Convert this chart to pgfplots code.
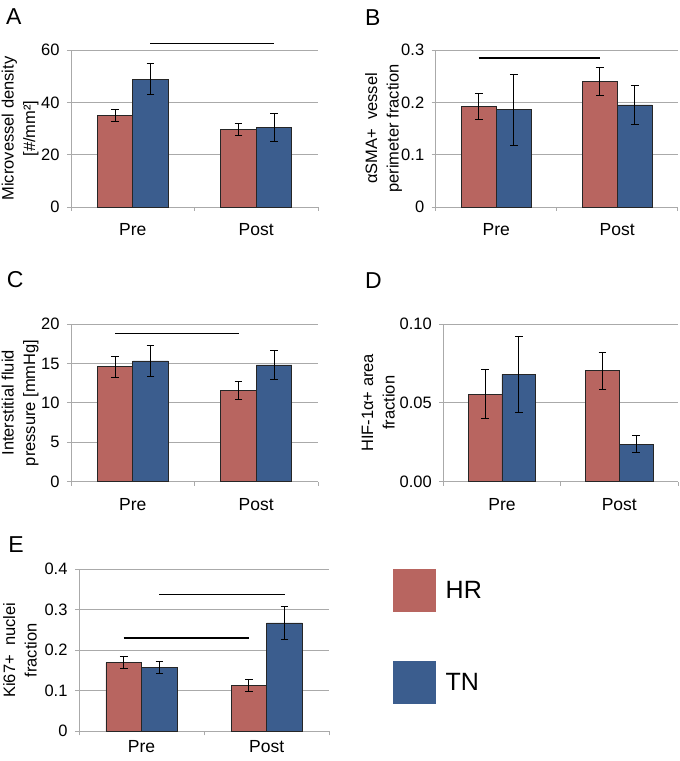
\documentclass[border=0pt]{standalone}
\usepackage{fontspec}
\setmainfont{Liberation Sans}
\usepackage{pgfplots}
\pgfplotsset{compat=1.18}
\definecolor{hr}{RGB}{184,101,96}
\definecolor{tn}{RGB}{59,93,142}
\definecolor{gridc}{RGB}{170,170,170}
\pgfplotsset{
  panel/.style={
    scale only axis,
    ybar=0pt,
    xmin=-0.5, xmax=1.5,
    ymin=0,
    xtick={0,1}, xticklabels={Pre,Post},
    minor xtick={-0.5,0.5,1.5},
    axis x line*=bottom, axis y line*=left,
    axis line style={gridc, line width=0.8bp},
    tick align=outside,
    major tick length=4bp, minor tick length=4bp,
    tick style={gridc, line width=0.8bp},
    major x tick style={draw=none},
    ymajorgrids, grid style={gridc, line width=0.8bp},
    /pgf/number format/assume math mode=true,
    yticklabel style={font=\fontsize{16.5bp}{19bp}\selectfont, xshift=-4bp},
    xticklabel style={font=\fontsize{17.5bp}{20bp}\selectfont, yshift=-9bp},
    ylabel style={font=\fontsize{16.5bp}{21.5bp}\selectfont, align=center,
      at={(axis description cs:0,0.5)}, anchor=center},
    clip=false,
  },
  hrbar/.style={fill=hr, draw=black!85, line width=0.7bp,
    error bars/.cd, y dir=both, y explicit,
    error bar style={black, line width=0.9bp},
    error mark options={rotate=90, black, mark size=3.8bp, line width=0.9bp}},
  tnbar/.style={fill=tn, draw=black!85, line width=0.7bp,
    error bars/.cd, y dir=both, y explicit,
    error bar style={black, line width=0.9bp},
    error mark options={rotate=90, black, mark size=3.8bp, line width=0.9bp}},
  sig/.style={sharp plot, black, line width=1.5bp, forget plot, mark=none},
}
\begin{document}
\begin{tikzpicture}
\path[use as bounding box] (0,0) rectangle (680bp,761bp);

% Panel labels
\node[anchor=base west, inner sep=0pt, font=\fontsize{23bp}{26bp}\selectfont] at (6bp,736bp) {A};
\node[anchor=base west, inner sep=0pt, font=\fontsize{23bp}{26bp}\selectfont] at (365bp,735bp) {B};
\node[anchor=base west, inner sep=0pt, font=\fontsize{23bp}{26bp}\selectfont] at (6.7bp,473bp) {C};
\node[anchor=base west, inner sep=0pt, font=\fontsize{23bp}{26bp}\selectfont] at (365bp,472.7bp) {D};
\node[anchor=base west, inner sep=0pt, font=\fontsize{23bp}{26bp}\selectfont] at (8.3bp,208bp) {E};

% Panel A
\begin{axis}[panel, at={(71bp,554bp)}, anchor=south west,
  width=247bp, height=157bp, bar width=35.5bp,
  ymax=60, ytick={0,20,40,60},
  ylabel={Microvessel density\\{}[\#/mm²]}, ylabel style={yshift=51bp}]
\addplot[hrbar] coordinates {(0,35.0) +- (0,2.4) (1,29.5) +- (0,2.3)};
\addplot[tnbar] coordinates {(0,48.9) +- (0,6.0) (1,30.4) +- (0,5.3)};
\addplot[sig] coordinates {(0.1437,62.5) (1.1437,62.5)};
\end{axis}

% Panel B
\begin{axis}[panel, at={(435.7bp,554bp)}, anchor=south west,
  width=242bp, height=157bp, bar width=35bp,
  ymax=0.3, ytick={0,0.1,0.2,0.3}, yticklabels={0,0.1,0.2,0.3},
  ylabel={αSMA+\ \ vessel\\perimeter fraction}, ylabel style={yshift=52bp}]
\addplot[hrbar] coordinates {(0,0.192) +- (0,0.025) (1,0.240) +- (0,0.027)};
\addplot[tnbar] coordinates {(0,0.186) +- (0,0.068) (1,0.195) +- (0,0.038)};
\addplot[sig] coordinates {(-0.1446,0.285) (0.8554,0.285)};
\end{axis}

% Panel C
\begin{axis}[panel, at={(71bp,279.3bp)}, anchor=south west,
  width=247bp, height=157.7bp, bar width=35.5bp,
  ymax=20, ytick={0,5,10,15,20},
  ylabel={Interstitial fluid\\pressure [mmHg]}, ylabel style={yshift=51bp}]
\addplot[hrbar] coordinates {(0,14.59) +- (0,1.33) (1,11.59) +- (0,1.12)};
\addplot[tnbar] coordinates {(0,15.31) +- (0,1.95) (1,14.80) +- (0,1.86)};
\addplot[sig] coordinates {(-0.1437,18.77) (0.8563,18.77)};
\end{axis}

% Panel D
\begin{axis}[panel, at={(443.3bp,279.3bp)}, anchor=south west,
  width=234.7bp, height=157.7bp, bar width=33.7bp,
  ymax=0.1, ytick={0,0.05,0.1}, yticklabels={0.00,0.05,0.10},
  ylabel={HIF-1α+ area\\fraction}, ylabel style={yshift=65bp}]
\addplot[hrbar] coordinates {(0,0.0556) +- (0,0.0155) (1,0.0704) +- (0,0.0117)};
\addplot[tnbar] coordinates {(0,0.0681) +- (0,0.0240) (1,0.0239) +- (0,0.0054)};
\end{axis}

% Panel E
\begin{axis}[panel, at={(79bp,29.7bp)}, anchor=south west,
  width=250.3bp, height=162bp, bar width=35.7bp,
  ymax=0.4, ytick={0,0.1,0.2,0.3,0.4}, yticklabels={0,0.1,0.2,0.3,0.4},
  xticklabel style={yshift=7bp},
  ylabel={Ki67+\ \ nuclei\\fraction}, ylabel style={yshift=59bp},
  legend style={at={(rel axis cs:0,1)}, anchor=north west, xshift=314.3bp,
    draw=none, fill=none, inner sep=0pt, outer sep=0pt,
    font=\fontsize{25bp}{30bp}\selectfont, row sep=49.4bp},
  legend cell align=left,
  legend image code/.code={\fill[#1, draw=none] (0bp,-21.2bp) rectangle (42.4bp,21.2bp);},
  legend style={nodes={inner xsep=10bp}}]
\addplot[hrbar] coordinates {(0,0.1695) +- (0,0.015) (1,0.1136) +- (0,0.014)};
\addlegendentry{HR}
\addplot[tnbar] coordinates {(0,0.158) +- (0,0.014) (1,0.2675) +- (0,0.040)};
\addlegendentry{TN}
\addplot[sig] coordinates {(0.1426,0.338) (1.1426,0.338)};
\addplot[sig] coordinates {(-0.1426,0.230) (0.8574,0.230)};
\end{axis}
\end{tikzpicture}
\end{document}
